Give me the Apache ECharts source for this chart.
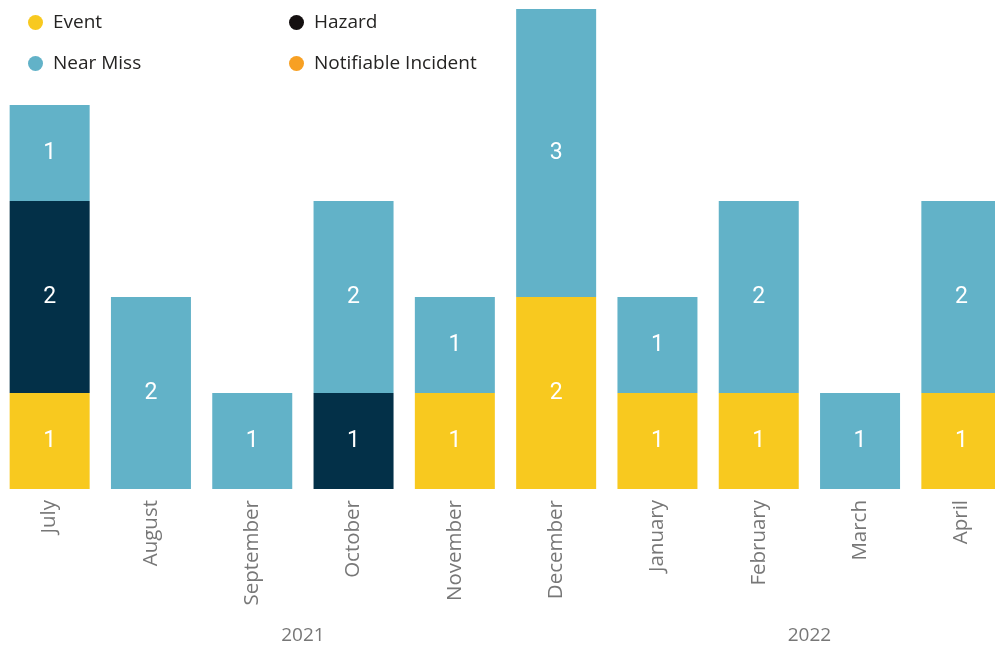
<!DOCTYPE html>
<html>
<head>
<meta charset="utf-8">
<script src="https://cdn.jsdelivr.net/npm/echarts@6/dist/echarts.min.js"></script>
<style>
  html, body { margin: 0; padding: 0; background: #fff; }
  #chart { width: 995px; height: 647px; }
</style>
</head>
<body>
<div id="chart"></div>
<script>
  // months on the axis, grouped by year below
  const months = ['July', 'August', 'September', 'October', 'November', 'December',
                  'January', 'February', 'March', 'April'];
  const years = ['2021', '2022'];
  const monthsPerYear = [6, 4];

  // counts per month (0 = nothing drawn)
  const eventData = [1, 0, 0, 0, 1, 2, 1, 1, 0, 1];
  const hazardData = [2, 0, 0, 1, 0, 0, 0, 0, 0, 0];
  const nearMissData = [1, 2, 1, 2, 1, 3, 1, 2, 1, 2];
  const notifiableData = [0, 0, 0, 0, 0, 0, 0, 0, 0, 0];

  const FONT = 'Open Sans';
  const NUM_FONT = '"Liberation Sans Narrow", Roboto, sans-serif';

  // year label sits in the middle of its months
  let yearCenters = [];
  let start = 0;
  for (let i = 0; i < monthsPerYear.length; i++) {
    yearCenters.push(start + (monthsPerYear[i] - 1) / 2);
    start += monthsPerYear[i];
  }

  const chart = echarts.init(document.getElementById('chart'));

  function barSeries(name, data, color) {
    return {
      name: name,
      type: 'bar',
      stack: 'total',
      barWidth: 80,
      data: data,
      itemStyle: { color: color },
      label: {
        show: true,
        position: 'inside',
        color: '#fff',
        fontSize: 23,
        fontFamily: NUM_FONT,
        formatter: function (p) { return p.value ? String(p.value) : ''; }
      }
    };
  }

  const legendBase = {
    orient: 'vertical',
    icon: 'circle',
    itemWidth: 15,
    itemHeight: 15,
    itemGap: 22,
    top: 8,
    textStyle: { fontSize: 19, color: '#252423', fontFamily: FONT, padding: [0, 0, 0, 5] }
  };

  chart.setOption({
    animation: false,
    legend: [
      Object.assign({}, legendBase, {
        left: 23,
        data: ['Event', 'Near Miss']
      }),
      Object.assign({}, legendBase, {
        left: 284,
        data: [{ name: 'Hazard', itemStyle: { color: '#140f10' } }, 'Notifiable Incident']
      })
    ],
    grid: { left: -1, top: 9, width: 1013, height: 480, outerBoundsMode: 'none' },
    xAxis: [{
      type: 'category',
      data: months,
      axisLine: { show: false },
      axisTick: { show: false },
      axisLabel: {
        rotate: 90,
        margin: 11,
        fontSize: 20.5,
        color: '#777',
        fontFamily: FONT
      }
    }, {
      type: 'value',
      position: 'bottom',
      offset: 129,
      min: -0.5,
      max: months.length - 0.5,
      axisLine: { show: false },
      axisTick: { show: false },
      splitLine: { show: false },
      axisLabel: {
        customValues: yearCenters,
        fontSize: 19,
        color: '#777',
        fontFamily: FONT,
        formatter: function (v) {
          let idx = yearCenters.indexOf(v);
          return idx >= 0 ? years[idx] : '';
        }
      }
    }],
    yAxis: {
      type: 'value',
      min: 0,
      max: 5,
      show: false
    },
    series: [
      barSeries('Event', eventData, '#F8C91F'),
      barSeries('Hazard', hazardData, '#033048'),
      barSeries('Near Miss', nearMissData, '#62B2C8'),
      barSeries('Notifiable Incident', notifiableData, '#F7A023')
    ]
  });
</script>
</body>
</html>
